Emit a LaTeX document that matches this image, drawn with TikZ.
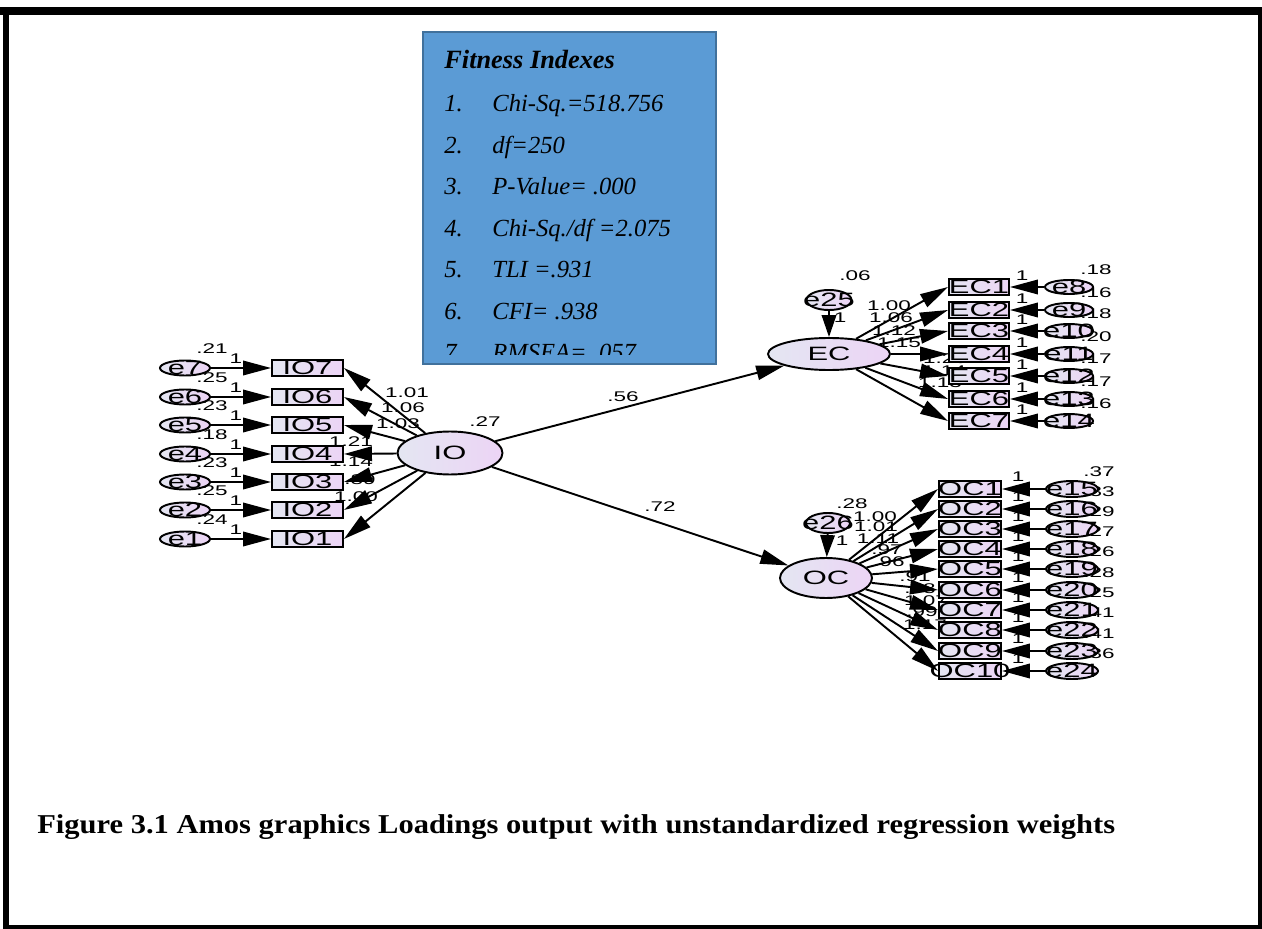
\documentclass[tikz,border=0pt]{standalone}
\usepackage{fontspec}
\setmainfont{Liberation Serif}
\newfontfamily\amosfont[FakeStretch=1.6]{Liberation Sans}
\newfontfamily\capfont[FakeStretch=1.12]{Liberation Serif}
\usetikzlibrary{positioning,arrows.meta,shapes.geometric}
\definecolor{fitblue}{RGB}{91,155,213}
\definecolor{fitedge}{RGB}{65,113,156}
\definecolor{amosgray}{RGB}{228,230,242}
\definecolor{amoslilac}{RGB}{236,212,245}
\newcommand{\cbox}[1]{\makebox[0pt]{\smash{\raisebox{-.5\height}{#1}}}}

\begin{document}
\begin{tikzpicture}[x=0.02cm, y=-0.02cm,
  obsvar/.style={rectangle, draw, line width=1.1pt, left color=amosgray, right color=amoslilac,
                 minimum height=0.32cm, inner sep=0pt, font=\amosfont\fontsize{11}{12}\selectfont},
  errvar/.style={ellipse, draw, line width=1.1pt, left color=amosgray, right color=amoslilac,
                 minimum height=0.3cm, inner sep=0pt, font=\amosfont\fontsize{11}{12}\selectfont},
  latvar/.style={errvar, minimum height=0.8cm},
  coef/.style={inner sep=0pt, font=\amosfont\fontsize{8}{9}\selectfont},
  regline/.style={-{Triangle[length=5.6mm, width=2.9mm]}, line width=1.1pt},
  resline/.style={-{Triangle[length=4.4mm, width=2.9mm]}, line width=1.1pt},
  fitline/.style={anchor=base west, inner sep=0pt, font=\fontsize{14}{16}\selectfont\itshape},
]
\useasboundingbox (0,0) rectangle (1262,929);
\fill[white] (0,0) rectangle (1262,929);
% page frame
\fill[black] (0,7) rectangle (1262,15);
\fill[black] (3,7) rectangle (9,929);
\fill[black] (1258,7) rectangle (1262,929);
\fill[black] (3,925) rectangle (1262,929);

% fit indexes box
\draw[fill=fitblue, draw=fitedge, line width=1.2pt] (423,32) rectangle (716,364);
\begin{scope}
  \clip (423,32) rectangle (716,355);
  \node[fitline, font=\fontsize{15}{17}\selectfont\bfseries\itshape] (fittitle) at (444,69) {Fitness Indexes};
  \foreach \t [count=\k] in {{Chi-Sq.=518.756}, {df=250}, {P-Value= .000}, {Chi-Sq./df =2.075},
                             {TLI =.931}, {CFI= .938}, {RMSEA= .057}} {
    \node[fitline] (fitn\k) at (444,{112+41.5*(\k-1)}) {\k.};
    \node[fitline] (fitt\k) at (492,{112+41.5*(\k-1)}) {\t};
  }
\end{scope}

% coefficients first, the shapes and arrow heads sit on top of them
\foreach \i/\y/\v in {7/368/.21, 6/397/.25, 5/425/.23, 4/454/.18, 3/482/.23, 2/510/.25, 1/539/.24} {
  \node[coef] (vare\i) at (212,{\y-19}) {\v};
  \node[coef] (onee\i) at (236,{\y-9}) {1};
}
\foreach \x/\y/\c [count=\k] in {407/393/1.01, 403/408/1.06, 398/424/1.03, 351/442/1.21,
                                 351/462/1.14, 360/480/.89, 356/497/1.00}
  \node[coef] (wIO\k) at (\x,\y) {\c};
\node[coef] (varIO) at (485,422) {.27};

\foreach \j/\y/\v in {8/287/.18, 9/310/.16, 10/331/.18, 11/354/.20, 12/376/.17, 13/399/.17, 14/421/.16} {
  \node[coef] (vare\j) at (1096,{\y-17}) {\v};
  \node[coef] (onee\j) at (1022,{\y-11}) {1};
}
\foreach \x/\y/\c [count=\k] in {889/306/1.00, 891/318/1.06, 894/331/1.12, 899/343/1.15,
                                 945/359/1.25, 944/371/1.14, 940/383/1.13}
  \node[coef] (wEC\k) at (\x,\y) {\c};
\node[coef] (vare25) at (855,276) {.06};
\node[coef] (onee25) at (840,318) {1};

\foreach \j/\y/\v in {15/489/.37, 16/509/.33, 17/529/.29, 18/549/.27, 19/569/.26,
                      20/590/.28, 21/610/.25, 22/630/.41, 23/651/.41, 24/671/.36} {
  \node[coef] (vare\j) at (1099,{\y-17}) {\v};
  \node[coef] (onee\j) at (1018,{\y-12}) {1};
}
\foreach \x/\y/\c [count=\k] in {875/517/1.00, 876/527/1.01, 878/539/1.11, 887/550/.97, 889/562/.96,
                                 915/577/.91, 920/589/.98, 926/601/1.07, 922/612/.99, 925/625/1.17}
  \node[coef] (wOC\k) at (\x,\y) {\c};
\node[coef] (vare26) at (852,504) {.28};
\node[coef] (onee26) at (842,541) {1};

\node[coef] (wEC) at (623,397) {.56};
\node[coef] (wOC) at (660,507) {.72};

% IO block
\foreach \i/\y in {7/368, 6/397, 5/425, 4/454, 3/482, 2/510, 1/539} {
  \node[errvar, minimum width=1cm] (e\i) at (185,\y) {\cbox{e\i}};
  \node[obsvar, minimum width=1.42cm] (IO\i) at (307.5,\y) {\cbox{IO\i}};
  \draw[regline] (e\i) -- (IO\i);
}
\node[latvar, minimum width=2.1cm, minimum height=0.86cm] (IO) at (450,453) {\cbox{IO}};
\foreach \i in {1,...,7}
  \draw[regline] (IO) -- (IO\i.east);

% EC block
\node[latvar, minimum width=2.44cm, minimum height=0.64cm] (EC) at (829,354) {\cbox{EC}};
\node[errvar, minimum width=0.9cm, minimum height=0.4cm] (e25) at (829,300) {\cbox{e25}};
\draw[resline] (e25) -- (EC);
\foreach \i/\j/\y in {1/8/287, 2/9/310, 3/10/331, 4/11/354, 5/12/376, 6/13/399, 7/14/421} {
  \node[obsvar, minimum width=1.2cm] (EC\i) at (979,\y) {\cbox{EC\i}};
  \node[errvar, minimum width=0.96cm, minimum height=0.28cm] (e\j) at (1069,\y) {\cbox{e\j}};
  \draw[regline] (e\j) -- (EC\i);
  \draw[regline] (EC) -- (EC\i.west);
}

% OC block
\node[latvar, minimum width=1.84cm] (OC) at (826,578) {\cbox{OC}};
\node[errvar, minimum width=0.88cm, minimum height=0.4cm] (e26) at (828,523) {\cbox{e26}};
\draw[resline] (e26) -- (OC);
\foreach \i/\j/\y in {1/15/489, 2/16/509, 3/17/529, 4/18/549, 5/19/569,
                      6/20/590, 7/21/610, 8/22/630, 9/23/651, 10/24/671} {
  \node[obsvar, minimum width=1.24cm] (OC\i) at (970,\y) {\cbox{OC\i}};
  \node[errvar, minimum width=1.04cm, minimum height=0.32cm] (e\j) at (1072,\y) {\cbox{e\j}};
  \draw[regline] (e\j) -- (OC\i);
  \draw[regline] (OC) -- (OC\i.west);
}

% structural paths
\draw[regline] (IO) -- (EC);
\draw[regline] (IO) -- (OC);

\node[anchor=base west, inner sep=0pt, font=\capfont\fontsize{15.5}{18}\selectfont\bfseries] (caption) at (37,833)
  {Figure 3.1 Amos graphics Loadings output with unstandardized regression weights};
\end{tikzpicture}
\end{document}
